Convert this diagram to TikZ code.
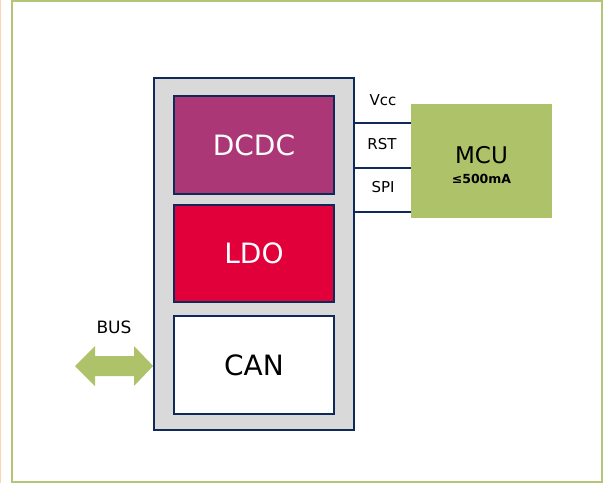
\documentclass[tikz,border=0pt]{standalone}
\usepackage{fontspec}
\setmainfont{DejaVu Sans}
\usetikzlibrary{positioning}
\definecolor{navy}{HTML}{0F2A5A}
\definecolor{boxgray}{HTML}{D9D9D9}
\definecolor{dcdcmag}{HTML}{AB3777}
\definecolor{ldored}{HTML}{E2003A}
\definecolor{mcugreen}{HTML}{AEC26A}
\definecolor{framegreen}{HTML}{B3C677}
\definecolor{peach}{HTML}{FCD5B5}
\tikzset{
  block/.style={draw=navy, line width=1.8pt, minimum width=160pt, minimum height=98pt, inner sep=0pt, font=\fontsize{28}{30}\selectfont},
  sig/.style={draw=navy, line width=1.4pt},
  siglabel/.style={font=\fontsize{15}{17}\selectfont, inner sep=0pt},
}
\begin{document}
\begin{tikzpicture}[x=1pt,y=-1pt]
\useasboundingbox (0,0) rectangle (603,483);
\fill[white] (0,0) rectangle (603,483);
\draw[peach, line width=1pt] (0.5,0) -- (0.5,483);
\draw[framegreen, line width=1.6pt] (12,1) rectangle (602,482);
% outer chip box
\node[draw=navy, fill=boxgray, line width=1.8pt, minimum width=200pt, minimum height=352pt, inner sep=0pt] (chip) at (254,254) {};
\node[block, fill=dcdcmag, text=white] (dcdc) at (254,145) {DCDC};
\node[block, fill=ldored, text=white, minimum height=97pt] (ldo) at (254,253.5) {LDO};
\node[block, fill=white] (can) at (254,365) {CAN};
% MCU
\node[fill=mcugreen, minimum width=141pt, minimum height=114pt, inner sep=0pt] (mcu) at (481.5,161) {};
\node[font=\fontsize{23}{25}\selectfont, inner sep=0pt] (mcutext) at (481.5,155) {MCU};
\node[font=\fontsize{12.5}{14}\selectfont\bfseries, inner sep=0pt] (mcucur) at (481.5,179) {≤500mA};
% signal lines
\coordinate (l1a) at (chip.east |- 0,123);
\coordinate (l1b) at (mcu.west |- 0,123);
\coordinate (l2a) at (chip.east |- 0,168);
\coordinate (l2b) at (mcu.west |- 0,168);
\coordinate (l3a) at (chip.east |- 0,212);
\coordinate (l3b) at (mcu.west |- 0,212);
\draw[sig] (l1a) -- (l1b);
\draw[sig] (l2a) -- (l2b);
\draw[sig] (l3a) -- (l3b);
\node[siglabel] (vcc) at (383,100) {Vcc};
\node[siglabel] (rst) at (382,144) {RST};
\node[siglabel] (spi) at (383,187) {SPI};
% BUS arrow
\coordinate (tipR) at (chip.west |- 0,366);
\fill[mcugreen] (75,366) -- (95,346) -- (95,356) -- (134,356) -- (134,346) -- (tipR) -- (134,386) -- (134,376) -- (95,376) -- (95,386) -- cycle;
\node[font=\fontsize{17}{19}\selectfont, inner sep=0pt] (bus) at (114,327) {BUS};
\end{tikzpicture}
\end{document}
